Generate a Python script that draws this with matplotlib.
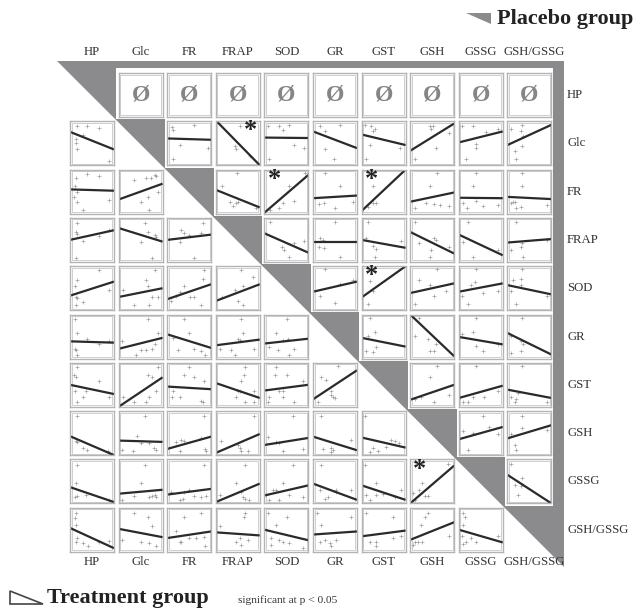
import matplotlib
matplotlib.use("Agg")
import matplotlib.pyplot as plt
from matplotlib.patches import Polygon, Rectangle
import numpy as np

variables = ["HP", "Glc", "FR", "FRAP", "SOD", "GR", "GST", "GSH", "GSSG", "GSH/GSSG"]

# regression line value (0..1 of cell height) at left and right edge; None = no plot
line_left = [
    [None, None, None, None, None, None, None, None, None, None],
    [0.76, None, 0.61, 1.02, 0.63, 0.77, 0.70, 0.33, 0.52, 0.46],
    [0.55, 0.32, None, 0.54, 0.02, 0.35, 0.06, 0.27, 0.36, 0.38],
    [0.50, 0.77, 0.50, None, 0.65, 0.45, 0.50, 0.68, 0.62, 0.44],
    [0.33, 0.30, 0.25, 0.21, None, 0.42, 0.29, 0.39, 0.42, 0.57],
    [0.39, 0.22, 0.55, 0.30, 0.34, None, 0.47, 1.00, 0.49, 0.58],
    [0.50, 0.00, 0.46, 0.54, 0.37, 0.17, None, 0.16, 0.20, 0.39],
    [0.43, 0.33, 0.14, 0.05, 0.23, 0.42, 0.40, None, 0.36, 0.38],
    [0.37, 0.22, 0.20, 0.03, 0.18, 0.45, 0.41, 0.00, None, 0.65],
    [0.54, 0.52, 0.31, 0.44, 0.50, 0.39, 0.35, 0.27, 0.50, None],
]
line_right = [
    [None, None, None, None, None, None, None, None, None, None],
    [0.36, None, 0.58, 0.00, 0.62, 0.39, 0.46, 0.95, 0.77, 0.92],
    [0.52, 0.68, None, 0.14, 0.88, 0.41, 1.00, 0.48, 0.35, 0.33],
    [0.72, 0.46, 0.62, None, 0.21, 0.45, 0.32, 0.19, 0.15, 0.52],
    [0.65, 0.50, 0.59, 0.59, None, 0.65, 1.00, 0.61, 0.61, 0.36],
    [0.36, 0.47, 0.24, 0.43, 0.45, None, 0.27, 0.05, 0.32, 0.09],
    [0.29, 0.67, 0.40, 0.20, 0.50, 0.83, None, 0.50, 0.48, 0.20],
    [0.00, 0.30, 0.42, 0.48, 0.39, 0.11, 0.17, None, 0.64, 0.68],
    [0.03, 0.31, 0.33, 0.45, 0.41, 0.08, 0.08, 0.86, None, 0.00],
    [0.08, 0.33, 0.46, 0.37, 0.26, 0.46, 0.48, 0.67, 0.21, None],
]

# cells marked significant: (row, col, star position)
significant = [(1, 3, "right"), (2, 4, "left"), (2, 6, "left"), (4, 6, "left"), (8, 7, "left")]

# scatter points per cell (normalised within the cell)
px = {
    (1, 0): [0.17, 0.38, 0.65, 0.30, 0.14, 0.14, 0.15, 0.89],
    (1, 2): [0.11, 0.14, 0.61, 0.30, 0.92, 0.13],
    (1, 3): [0.55, 0.43, 0.47, 0.77],
    (1, 4): [0.09, 0.34, 0.42, 0.57, 0.68, 0.91, 0.11],
    (1, 5): [0.15, 0.61, 0.27, 0.27, 0.48],
    (1, 6): [0.07, 0.22, 0.30, 0.26, 0.18, 0.88, 0.11],
    (1, 7): [0.45, 0.52, 0.48, 0.89, 0.59, 0.10],
    (1, 8): [0.08, 0.32, 0.62, 0.89, 0.39, 0.39, 0.17],
    (1, 9): [0.34, 0.09, 0.32, 0.36, 0.34, 0.17, 0.20],
    (2, 0): [0.14, 0.38, 0.65, 0.12, 0.17, 0.10, 0.15, 0.29, 0.89],
    (2, 1): [0.36, 0.62, 0.83, 0.86, 0.73, 0.89, 0.51, 0.66, 0.70],
    (2, 3): [0.49, 0.15, 0.32, 0.39, 0.47, 0.51, 0.92],
    (2, 4): [0.93, 0.57, 0.68, 0.42, 0.33, 0.13],
    (2, 5): [0.27, 0.61, 0.24, 0.14, 0.49, 0.91],
    (2, 6): [0.26, 0.33, 0.14, 0.26],
    (2, 7): [0.61, 0.44, 0.36, 0.55, 0.67, 0.88, 0.10],
    (2, 8): [0.39, 0.32, 0.39, 0.09, 0.18, 0.55, 0.89],
    (2, 9): [0.33, 0.33, 0.13, 0.17, 0.09, 0.20, 0.32, 0.89],
    (3, 0): [0.17, 0.14, 0.17, 0.29, 0.67, 0.89, 0.14],
    (3, 1): [0.61, 0.66, 0.83, 0.85, 0.51, 0.76],
    (3, 2): [0.81, 0.32, 0.39, 0.49, 0.77, 0.28, 0.60],
    (3, 4): [0.13, 0.91, 0.68, 0.40, 0.45, 0.57],
    (3, 5): [0.49, 0.23, 0.15, 0.14, 0.24, 0.61],
    (3, 6): [0.14, 0.11, 0.26, 0.33, 0.30, 0.90],
    (3, 7): [0.10, 0.21, 0.55, 0.59, 0.48, 0.44, 0.89],
    (3, 8): [0.20, 0.09, 0.32, 0.89],
    (3, 9): [0.20, 0.09, 0.32, 0.34, 0.36, 0.89],
    (4, 0): [0.65, 0.17, 0.12, 0.14, 0.17, 0.29, 0.14, 0.89],
    (4, 1): [0.83, 0.62, 0.66, 0.09, 0.77, 0.89, 0.36, 0.70],
    (4, 2): [0.83, 0.81, 0.39, 0.28, 0.20, 0.51, 0.60, 0.77, 0.09],
    (4, 3): [0.58, 0.85, 0.62, 0.43, 0.51, 0.62, 0.13],
    (4, 5): [0.27, 0.15, 0.49, 0.61, 0.91],
    (4, 6): [0.18, 0.26, 0.14],
    (4, 7): [0.61, 0.44, 0.20, 0.55, 0.82, 0.10],
    (4, 8): [0.39, 0.36, 0.28, 0.56, 0.89, 0.08, 0.20],
    (4, 9): [0.33, 0.32, 0.13, 0.32, 0.09, 0.89, 0.20],
    (5, 0): [0.12, 0.17, 0.38, 0.65, 0.89, 0.12, 0.14, 0.15],
    (5, 1): [0.66, 0.89, 0.83, 0.76, 0.51, 0.62, 0.39, 0.08],
    (5, 2): [0.39, 0.49, 0.14, 0.24, 0.60, 0.77, 0.85],
    (5, 3): [0.58, 0.62, 0.51, 0.55, 0.09, 0.35, 0.43, 0.86],
    (5, 4): [0.51, 0.27, 0.42, 0.53, 0.11, 0.30, 0.68, 0.57],
    (5, 6): [0.20, 0.30, 0.14, 0.33, 0.11, 0.26],
    (5, 7): [0.21, 0.10, 0.40, 0.59, 0.55, 0.44],
    (5, 8): [0.39, 0.32, 0.08, 0.39, 0.56, 0.89],
    (5, 9): [0.33, 0.09, 0.32, 0.36, 0.32, 0.09],
    (6, 0): [0.17, 0.10, 0.14, 0.65, 0.12, 0.36, 0.29, 0.17, 0.89],
    (6, 1): [0.89, 0.66, 0.76, 0.85, 0.70, 0.36, 0.62, 0.11],
    (6, 2): [0.49, 0.39, 0.60, 0.83, 0.14, 0.28, 0.11, 0.77, 0.81],
    (6, 3): [0.66, 0.64, 0.58, 0.51, 0.54, 0.86, 0.47, 0.66, 0.86],
    (6, 4): [0.27, 0.25, 0.51, 0.87, 0.34, 0.42, 0.11, 0.42, 0.68, 0.08],
    (6, 5): [0.19, 0.30, 0.42, 0.45, 0.11, 0.42, 0.49, 0.57],
    (6, 7): [0.61, 0.44, 0.10, 0.25, 0.55, 0.89],
    (6, 8): [0.39, 0.09, 0.20, 0.32, 0.58, 0.89, 0.03],
    (6, 9): [0.33, 0.09, 0.20, 0.17, 0.24, 0.89],
    (7, 0): [0.17, 0.14, 0.15, 0.29, 0.38, 0.89, 0.86],
    (7, 1): [0.61, 0.41, 0.08, 0.51, 0.70, 0.81, 0.86, 0.32],
    (7, 2): [0.83, 0.39, 0.32, 0.77, 0.85, 0.89, 0.30, 0.20],
    (7, 3): [0.86, 0.11, 0.55, 0.58, 0.73, 0.51],
    (7, 4): [0.66, 0.08, 0.27, 0.42, 0.87, 0.34],
    (7, 5): [0.19, 0.23, 0.42, 0.45, 0.40, 0.87],
    (7, 6): [0.08, 0.67, 0.86, 0.56, 0.26, 0.18, 0.37, 0.75],
    (7, 8): [0.56, 0.09, 0.33, 0.89, 0.20, 0.68],
    (7, 9): [0.33, 0.09, 0.34, 0.90, 0.17, 0.20],
    (8, 0): [0.17, 0.14, 0.12, 0.15, 0.36, 0.89],
    (8, 1): [0.61, 0.51, 0.36, 0.08, 0.70, 0.77, 0.83, 0.85],
    (8, 2): [0.83, 0.49, 0.39, 0.30, 0.36, 0.60, 0.77, 0.89, 0.09],
    (8, 3): [0.66, 0.47, 0.58, 0.62, 0.66, 0.09, 0.76],
    (8, 4): [0.66, 0.42, 0.19, 0.27, 0.57, 0.04, 0.34, 0.87, 0.11],
    (8, 5): [0.19, 0.15, 0.34, 0.53, 0.27, 0.87, 0.53],
    (8, 6): [0.08, 0.33, 0.09, 0.18, 0.33, 0.48, 0.90, 0.75],
    (8, 7): [0.86, 0.27, 0.21, 0.06, 0.33, 0.40, 0.12],
    (8, 9): [0.09, 0.34, 0.17, 0.32, 0.24],
    (9, 0): [0.14, 0.12, 0.14, 0.17, 0.14, 0.29, 0.40, 0.89, 0.67],
    (9, 1): [0.36, 0.66, 0.77, 0.08, 0.51, 0.70, 0.85],
    (9, 2): [0.39, 0.77, 0.20, 0.32, 0.28, 0.49, 0.66, 0.83, 0.85],
    (9, 3): [0.66, 0.64, 0.09, 0.56, 0.47, 0.58, 0.73],
    (9, 4): [0.08, 0.51, 0.27, 0.15, 0.34, 0.42, 0.15, 0.57, 0.87],
    (9, 5): [0.08, 0.19, 0.15, 0.27, 0.38, 0.42, 0.53, 0.87],
    (9, 6): [0.11, 0.71, 0.18, 0.33, 0.33, 0.71, 0.90],
    (9, 7): [0.40, 0.33, 0.25, 0.12, 0.17, 0.27, 0.06, 0.89],
    (9, 8): [0.09, 0.13, 0.09, 0.08, 0.17, 0.28, 0.39, 0.09, 0.89],
}
py = {
    (1, 0): [0.89, 0.89, 0.85, 0.70, 0.59, 0.50, 0.36, 0.10],
    (1, 2): [0.86, 0.80, 0.91, 0.46, 0.39, 0.14],
    (1, 3): [0.89, 0.44, 0.38, 0.21],
    (1, 4): [0.89, 0.89, 0.80, 0.91, 0.46, 0.39, 0.14],
    (1, 5): [0.89, 0.91, 0.78, 0.38, 0.14],
    (1, 6): [0.91, 0.89, 0.82, 0.78, 0.46, 0.39, 0.14],
    (1, 7): [0.89, 0.89, 0.82, 0.74, 0.39, 0.14],
    (1, 8): [0.89, 0.89, 0.76, 0.82, 0.48, 0.39, 0.14],
    (1, 9): [0.91, 0.82, 0.78, 0.67, 0.44, 0.33, 0.14],
    (2, 0): [0.81, 0.90, 0.85, 0.62, 0.48, 0.38, 0.27, 0.09, 0.31],
    (2, 1): [0.77, 0.81, 0.88, 0.85, 0.81, 0.48, 0.27, 0.37, 0.09],
    (2, 3): [0.92, 0.62, 0.27, 0.18, 0.23, 0.27, 0.12],
    (2, 4): [0.92, 0.62, 0.29, 0.25, 0.12, 0.08],
    (2, 5): [0.92, 0.62, 0.25, 0.21, 0.12, 0.27],
    (2, 6): [0.25, 0.25, 0.15, 0.62],
    (2, 7): [0.92, 0.62, 0.25, 0.22, 0.19, 0.17, 0.12],
    (2, 8): [0.92, 0.62, 0.29, 0.23, 0.12, 0.17, 0.19],
    (2, 9): [0.92, 0.62, 0.27, 0.27, 0.25, 0.12, 0.15, 0.19],
    (3, 0): [0.88, 0.67, 0.64, 0.48, 0.59, 0.73, 0.08],
    (3, 1): [0.88, 0.67, 0.62, 0.56, 0.46, 0.08],
    (3, 2): [0.88, 0.73, 0.65, 0.62, 0.65, 0.46, 0.08],
    (3, 4): [0.90, 0.48, 0.44, 0.33, 0.28, 0.12],
    (3, 5): [0.90, 0.50, 0.54, 0.33, 0.31, 0.12],
    (3, 6): [0.90, 0.54, 0.35, 0.29, 0.12, 0.48],
    (3, 7): [0.90, 0.44, 0.54, 0.50, 0.28, 0.12, 0.33],
    (3, 8): [0.90, 0.46, 0.12, 0.28],
    (3, 9): [0.90, 0.28, 0.33, 0.44, 0.12, 0.50],
    (4, 0): [0.91, 0.68, 0.56, 0.29, 0.27, 0.19, 0.12, 0.45],
    (4, 1): [0.91, 0.68, 0.56, 0.45, 0.29, 0.29, 0.12, 0.12],
    (4, 2): [0.91, 0.72, 0.56, 0.42, 0.33, 0.29, 0.29, 0.12, 0.21],
    (4, 3): [0.91, 0.75, 0.56, 0.45, 0.21, 0.12, 0.29],
    (4, 5): [0.93, 0.33, 0.16, 0.59, 0.69],
    (4, 6): [0.67, 0.44, 0.14],
    (4, 7): [0.93, 0.57, 0.69, 0.33, 0.44, 0.14],
    (4, 8): [0.93, 0.64, 0.57, 0.40, 0.44, 0.33, 0.14],
    (4, 9): [0.93, 0.72, 0.69, 0.57, 0.44, 0.33, 0.14],
    (5, 0): [0.90, 0.58, 0.45, 0.32, 0.39, 0.22, 0.19, 0.09],
    (5, 1): [0.90, 0.58, 0.34, 0.22, 0.19, 0.20, 0.09, 0.39],
    (5, 2): [0.90, 0.58, 0.47, 0.20, 0.22, 0.17, 0.09],
    (5, 3): [0.90, 0.58, 0.45, 0.43, 0.22, 0.20, 0.09, 0.22],
    (5, 4): [0.90, 0.58, 0.43, 0.45, 0.27, 0.20, 0.22, 0.09],
    (5, 6): [0.92, 0.60, 0.52, 0.27, 0.17, 0.15],
    (5, 7): [0.92, 0.52, 0.44, 0.32, 0.17, 0.17],
    (5, 8): [0.92, 0.60, 0.55, 0.28, 0.17, 0.32],
    (5, 9): [0.92, 0.52, 0.40, 0.32, 0.17, 0.13],
    (6, 0): [0.90, 0.73, 0.67, 0.59, 0.35, 0.35, 0.23, 0.12, 0.22],
    (6, 1): [0.90, 0.73, 0.67, 0.35, 0.23, 0.12, 0.10, 0.22],
    (6, 2): [0.90, 0.73, 0.67, 0.59, 0.35, 0.23, 0.23, 0.14, 0.12],
    (6, 3): [0.90, 0.73, 0.59, 0.35, 0.35, 0.35, 0.23, 0.12, 0.12],
    (6, 4): [0.90, 0.73, 0.73, 0.59, 0.35, 0.35, 0.23, 0.23, 0.12, 0.12],
    (6, 5): [0.67, 0.60, 0.35, 0.23, 0.12, 0.27, 0.20, 0.92],
    (6, 7): [0.92, 0.67, 0.17, 0.23, 0.12, 0.27],
    (6, 8): [0.92, 0.12, 0.12, 0.23, 0.23, 0.35, 0.23],
    (6, 9): [0.92, 0.23, 0.17, 0.12, 0.31, 0.12],
    (7, 0): [0.89, 0.33, 0.30, 0.17, 0.11, 0.05, 0.10],
    (7, 1): [0.89, 0.43, 0.11, 0.28, 0.28, 0.17, 0.11, 0.10],
    (7, 2): [0.89, 0.33, 0.34, 0.40, 0.15, 0.10, 0.10, 0.30],
    (7, 3): [0.89, 0.33, 0.17, 0.10, 0.10, 0.23],
    (7, 4): [0.89, 0.42, 0.30, 0.10, 0.15, 0.28],
    (7, 5): [0.89, 0.13, 0.17, 0.11, 0.08, 0.34],
    (7, 6): [0.89, 0.34, 0.28, 0.19, 0.17, 0.08, 0.10, 0.33],
    (7, 8): [0.89, 0.55, 0.51, 0.48, 0.11, 0.63],
    (7, 9): [0.89, 0.49, 0.61, 0.57, 0.23, 0.11],
    (8, 0): [0.88, 0.46, 0.14, 0.17, 0.20, 0.07],
    (8, 1): [0.88, 0.46, 0.16, 0.08, 0.14, 0.17, 0.18, 0.14],
    (8, 2): [0.88, 0.30, 0.26, 0.08, 0.11, 0.16, 0.14, 0.17, 0.26],
    (8, 3): [0.88, 0.46, 0.26, 0.14, 0.11, 0.18, 0.08],
    (8, 4): [0.88, 0.46, 0.30, 0.30, 0.20, 0.18, 0.08, 0.14, 0.08],
    (8, 5): [0.88, 0.30, 0.14, 0.30, 0.11, 0.30, 0.26],
    (8, 6): [0.88, 0.46, 0.18, 0.08, 0.20, 0.22, 0.30, 0.14],
    (8, 7): [0.89, 0.46, 0.30, 0.23, 0.16, 0.16, 0.08],
    (8, 9): [0.90, 0.58, 0.41, 0.39, 0.20],
    (9, 0): [0.89, 0.77, 0.61, 0.31, 0.21, 0.20, 0.14, 0.25, 0.23],
    (9, 1): [0.89, 0.80, 0.59, 0.26, 0.21, 0.20, 0.12],
    (9, 2): [0.80, 0.89, 0.46, 0.23, 0.21, 0.31, 0.31, 0.33, 0.12],
    (9, 3): [0.89, 0.80, 0.59, 0.31, 0.21, 0.16, 0.26],
    (9, 4): [0.89, 0.80, 0.61, 0.31, 0.26, 0.23, 0.16, 0.20, 0.08],
    (9, 5): [0.89, 0.61, 0.23, 0.26, 0.20, 0.12, 0.27, 0.80],
    (9, 6): [0.89, 0.80, 0.23, 0.21, 0.14, 0.31, 0.35],
    (9, 7): [0.89, 0.80, 0.61, 0.23, 0.21, 0.21, 0.16, 0.36],
    (9, 8): [0.89, 0.80, 0.61, 0.35, 0.23, 0.31, 0.21, 0.18, 0.36],
}

# ---------------- layout (pixels) ----------------
W, H = 635, 615
X0, Y0 = 70.0, 73.0      # top-left of first cell frame
PX, PY = 48.6, 48.3      # cell pitch
CS = 44.0                # cell size
SERIF = ["Liberation Serif", "DejaVu Serif"]
GRAY = "#8b8b8d"
FRAME = "#b4b4b4"

fig = plt.figure(figsize=(W / 100, H / 100), dpi=100)
bg = fig.add_axes([0, 0, 1, 1])
bg.set_xlim(0, W)
bg.set_ylim(H, 0)
bg.axis("off")

# big gray triangle (placebo half)
bg.add_patch(Polygon([(57, 61), (564, 61), (564, 567)], closed=True,
                     facecolor=GRAY, edgecolor="none", zorder=1))
# white background behind upper cells
n = len(variables)
for i in range(n):
    for j in range(i + 1, n):
        x1 = X0 + PX * j - 2.3
        y1 = Y0 + PY * i - 2.2
        x2 = X0 + PX * j + CS + 2.3
        y2 = Y0 + PY * i + CS + 2.2
        if i == 0:
            y1 = 68
        if j == n - 1:
            x2 = 553
        bg.add_patch(Rectangle((x1, y1), x2 - x1, y2 - y1, facecolor="white",
                               edgecolor="none", zorder=2))

# labels
for k, name in enumerate(variables):
    cx = X0 + PX * k + CS / 2
    if k == n - 1:
        cx += 5
    cy = Y0 + PY * k + CS / 2
    bg.text(cx, 52, name, ha="center", va="center", fontsize=9.2,
            family=SERIF, color="#333333", zorder=5)
    bg.text(cx, 562, name, ha="center", va="center", fontsize=9.2,
            family=SERIF, color="#333333", zorder=5)
    bg.text(567, cy, name, ha="left", va="center", fontsize=9.2,
            family=SERIF, color="#333333", zorder=5)

# legend-like titles
bg.add_patch(Polygon([(466, 13), (491, 13), (491, 24)], closed=True,
                     facecolor=GRAY, edgecolor="none", zorder=3))
bg.text(497, 19, "Placebo group", ha="left", va="center", fontsize=16,
        fontweight="bold", family=SERIF, color="#222222", zorder=5)
bg.add_patch(Polygon([(10, 591), (10, 604), (43, 604)], closed=True,
                     facecolor="white", edgecolor="#444444", lw=1.2, zorder=3))
bg.text(47, 598, "Treatment group", ha="left", va="center", fontsize=16,
        fontweight="bold", family=SERIF, color="#222222", zorder=5)
bg.text(238, 600, "significant at p < 0.05", ha="left", va="center", fontsize=8.2,
        family=SERIF, color="#333333", zorder=5)

sig_lookup = {(r, c): side for r, c, side in significant}

for i in range(n):
    for j in range(n):
        if i == j:
            continue
        left = X0 + PX * j
        top = Y0 + PY * i
        ax = fig.add_axes([left / W, 1 - (top + CS) / H, CS / W, CS / H])
        ax.set_xlim(0, 1)
        ax.set_ylim(0, 1)
        ax.set_xticks([])
        ax.set_yticks([])
        ax.set_facecolor("white")
        for s in ax.spines.values():
            s.set_color(FRAME)
            s.set_linewidth(1.0)
        ax.add_patch(Rectangle((0.035, 0.035), 0.93, 0.93, transform=ax.transAxes,
                               facecolor="none", edgecolor="#cfcfcf", lw=0.7))
        if i == 0:
            ax.text(0.5, 0.5, "Ø", ha="center", va="center", fontsize=17,
                    fontweight="bold", family=SERIF, color="#858585",
                    transform=ax.transAxes)
            continue
        if (i, j) in px:
            ax.plot(px[(i, j)], py[(i, j)], linestyle="none", marker="+",
                    markersize=2.2, mew=0.45, color="#9a9a9a")
        yl, yr = line_left[i][j], line_right[i][j]
        if yl is not None:
            ax.plot([0, 1], [yl, yr], color="#2a2a2a", lw=1.6, solid_capstyle="butt")
        if (i, j) in sig_lookup:
            sx = 0.80 if sig_lookup[(i, j)] == "right" else 0.22
            ax.text(sx, 0.78, "*", ha="center", va="center", fontsize=19,
                    fontweight="bold", family=SERIF, color="#222222",
                    transform=ax.transAxes)

fig.savefig("out.png", dpi=100)
